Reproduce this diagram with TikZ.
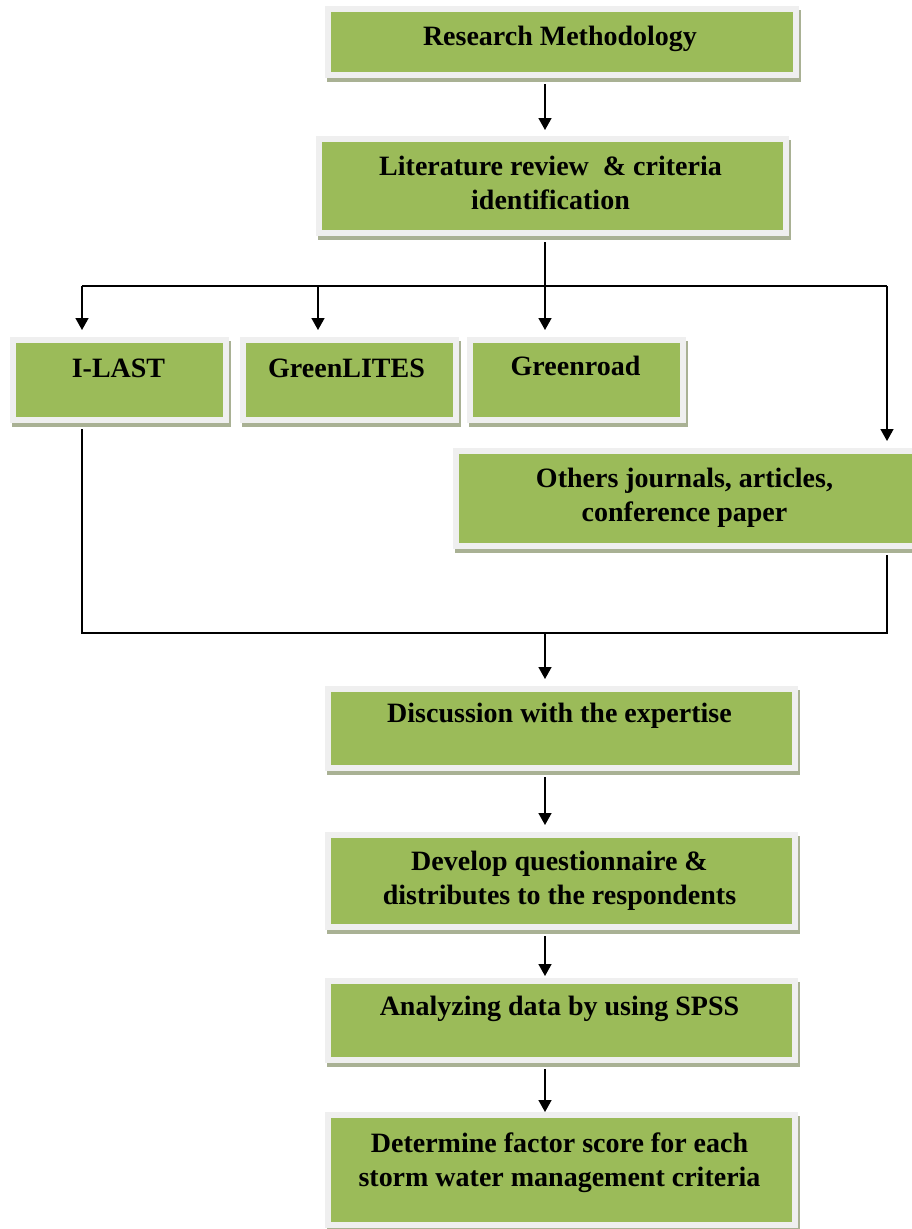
\documentclass[tikz,border=0pt]{standalone}
\usepackage{fontspec}
\setmainfont{Liberation Serif}
\usetikzlibrary{arrows.meta,calc}
\definecolor{boxgreen}{HTML}{9BBB59}
\definecolor{boxframe}{HTML}{EFEFEF}
\definecolor{boxshade}{HTML}{A9B194}
\newcommand\tstrut{\rule{0pt}{20pt}}
\begin{document}
\begin{tikzpicture}[x=1pt,y=-1pt,
  box/.style={draw=boxframe, line width=6pt, fill=boxgreen, inner sep=0pt, outer sep=0pt,
    preaction={draw=boxshade, fill=boxshade, line width=6pt, transform canvas={xshift=2pt,yshift=-4pt}}},
  txt/.style={anchor=north, inner sep=0pt, outer sep=0pt, align=center,
    font=\fontsize{28}{34}\selectfont\bfseries},
  link/.style={line width=1.6pt, black, line join=miter},
  arr/.style={link, -{Triangle[width=13pt,length=12pt]}}]
\fill[white] (0,0) rectangle (911,1229);
\useasboundingbox (0,0) rectangle (911,1229);

% boxes
\node[box, minimum width=468pt, minimum height=66pt] (rm) at (562,42) {};
\node[box, minimum width=467pt, minimum height=94pt] (lit) at (552.5,186) {};
\node[box, minimum width=213pt, minimum height=80pt] (ilast) at (119.5,380) {};
\node[box, minimum width=213pt, minimum height=80pt] (glites) at (349.5,380) {};
\node[box, minimum width=213pt, minimum height=80pt] (groad) at (576.5,380) {};
\node[box, minimum width=461pt, minimum height=95pt] (oth) at (686.5,498.5) {};
\node[box, minimum width=467pt, minimum height=79pt] (disc) at (561.5,728.5) {};
\node[box, minimum width=467pt, minimum height=92pt] (dev) at (561.5,881) {};
\node[box, minimum width=467pt, minimum height=79pt] (ana) at (561.5,1020.5) {};
\node[box, minimum width=467pt, minimum height=110pt] (det) at (561.5,1170) {};

% texts
\node[txt] (rmt) at ([yshift=-16pt,xshift=-2pt]rm.north) {\tstrut Research Methodology};
\node[txt] (litt) at ([yshift=-16pt,xshift=-2pt]lit.north) {\tstrut Literature review \ \& criteria\\identification};
\node[txt] (ilastt) at ([yshift=-17pt,xshift=-1pt]ilast.north) {\tstrut I-LAST};
\node[txt] (glitest) at ([yshift=-17pt,xshift=-3pt]glites.north) {\tstrut GreenLITES};
\node[txt] (groadt) at ([yshift=-15pt,xshift=-1pt]groad.north) {\tstrut Greenroad};
\node[txt] (otht) at ([yshift=-16pt,xshift=-2pt]oth.north) {\tstrut Others journals, articles,\\conference paper};
\node[txt] (disct) at ([yshift=-13pt,xshift=-2pt]disc.north) {\tstrut Discussion with the expertise};
\node[txt] (devt) at ([yshift=-15pt,xshift=-2pt]dev.north) {\tstrut Develop questionnaire \&\\distributes to the respondents};
\node[txt] (anat) at ([yshift=-14pt,xshift=-2pt]ana.north) {\tstrut Analyzing data by using SPSS};
\node[txt] (dett) at ([yshift=-17pt,xshift=-2pt]det.north) {\tstrut Determine factor score for each\\storm water management criteria};

% connector coordinates
\coordinate (spine) at (545,0);
\coordinate (sl) at (82,286);
\coordinate (sm) at (318,286);
\coordinate (sc) at (545,286);
\coordinate (sr) at (887,286);
\coordinate (jl) at (82,633);
\coordinate (jc) at (545,633);
\coordinate (jr) at (887,633);

% connectors
\draw[arr] ([yshift=-9pt]rm.south -| spine) -- ([yshift=9pt]lit.north -| spine);
\draw[link] ([yshift=-9pt]lit.south -| spine) -- (sc);
\draw[link] (sl) -- (sr);
\draw[arr] (sl) -- ([yshift=10pt]ilast.north -| sl);
\draw[arr] (sm) -- ([yshift=10pt]glites.north -| sm);
\draw[arr] (sc) -- ([yshift=10pt]groad.north -| sc);
\draw[arr] (sr) -- ([yshift=10pt]oth.north -| sr);
\draw[link] ([yshift=-9pt]ilast.south -| jl) -- (jl) -- (jr) -- ([yshift=-9pt]oth.south -| jr);
\draw[arr] (jc) -- ([yshift=10pt]disc.north -| jc);
\draw[arr] ([yshift=-9pt]disc.south -| spine) -- ([yshift=10pt]dev.north -| spine);
\draw[arr] ([yshift=-9pt]dev.south -| spine) -- ([yshift=5pt]ana.north -| spine);
\draw[arr] ([yshift=-9pt]ana.south -| spine) -- ([yshift=3pt]det.north -| spine);
\end{tikzpicture}
\end{document}
